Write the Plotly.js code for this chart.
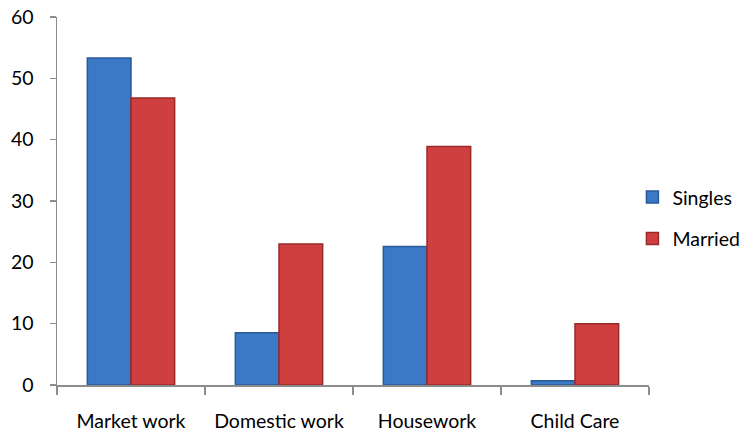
<!DOCTYPE html>
<html>
<head>
<meta charset="utf-8">
<script src="https://cdn.plot.ly/plotly-3.0.1.min.js"></script>
<style>html,body{margin:0;padding:0;background:#fff;}#chart{width:748px;height:436px;}</style>
</head>
<body>
<div id="chart"></div>
<script>
const categories = ["Market work", "Domestic work", "Housework", "Child Care"];
const singles = [53.3, 8.5, 22.6, 0.7];
const married = [46.8, 23.0, 38.9, 10.0];
const yTicks = [0, 10, 20, 30, 40, 50, 60];

const traces = [
  {type: 'bar', name: 'Singles', x: categories, y: singles, legendgroup: 'a',
   marker: {color: '#3B78C6', line: {color: '#2A5A98', width: 1.5}}},
  {type: 'bar', name: 'Married', x: categories, y: married, legendgroup: 'b',
   marker: {color: '#CF3F3F', line: {color: '#9A2A2A', width: 1.5}}}
];

const layout = {
  width: 748, height: 436,
  margin: {l: 57, r: 99, t: 17, b: 51, autoexpand: false},
  paper_bgcolor: '#fff', plot_bgcolor: '#fff',
  font: {family: 'Lato, "Open Sans", sans-serif', size: 19.5, color: '#000'},
  barmode: 'group', bargap: 0.41, bargroupgap: 0,
  showlegend: true,
  legend: {x: 0.972, xanchor: 'left', y: 0.454, yanchor: 'middle', tracegroupgap: 13,
           font: {size: 19.5}, traceorder: 'grouped', itemwidth: 30},
  xaxis: {showline: true, linecolor: '#8c8c8c', linewidth: 1.5, ticks: 'outside',
          tickson: 'boundaries', ticklen: 8, tickcolor: '#8c8c8c', tickwidth: 1.5,
          ticklabelstandoff: 18, showgrid: false, zeroline: false},
  yaxis: {range: [0, 60], tickvals: yTicks, showline: true, linecolor: '#8c8c8c', linewidth: 1.5,
          ticks: 'outside', ticklen: 6, tickcolor: '#8c8c8c', tickwidth: 1.5,
          ticklabelstandoff: 12, showgrid: false, zeroline: false}
};

Plotly.newPlot('chart', traces, layout, {displayModeBar: false, staticPlot: true});
</script>
</body>
</html>
